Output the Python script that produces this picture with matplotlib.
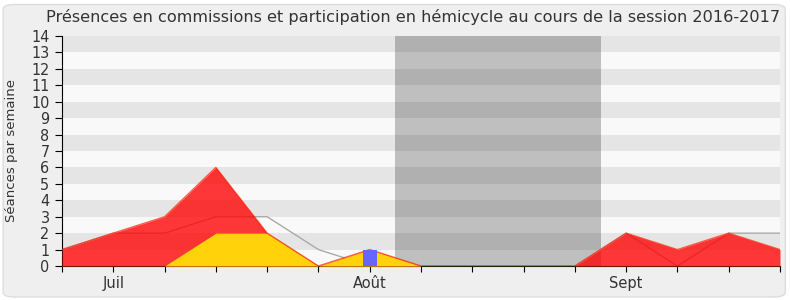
import matplotlib
matplotlib.use("Agg")
import matplotlib.pyplot as plt
from matplotlib.patches import FancyBboxPatch

weeks = list(range(15))
hemicycle = [1, 2, 3, 6, 2, 0, 1, 0, 0, 0, 0, 2, 1, 2, 1]
commissions = [0, 0, 0, 2, 2, 0, 1, 0, 0, 0, 0, 0, 0, 0, 0]
median = [1, 2, 2, 3, 3, 1, 0, 0, 0, 0, 0, 2, 0, 2, 2]
questions_x = [6]
questions = [1]
vacances = (6.5, 10.5)
month_ticks = [1, 6, 11]
month_labels = ["Juil", "Août", "Sept"]
title = "Présences en commissions et participation en hémicycle au cours de la session 2016-2017"

fig = plt.figure(figsize=(7.9, 3.0), dpi=100)
fig.patch.set_facecolor("white")
bg = FancyBboxPatch((0.004, 0.01), 0.99, 0.975, boxstyle="round,pad=0,rounding_size=0.015",
                    transform=fig.transFigure, facecolor="#efefef", edgecolor="#dddddd", lw=1, zorder=-10)
fig.patches.append(bg)

ax = fig.add_axes([62/790, 34/300, (780-62)/790, (266-36)/300])
ax.set_facecolor("#f9f9f9")
for k in range(1, 14, 2):
    ax.axhspan(k, k+1, color="#e5e5e5", lw=0, zorder=0)
ax.axvspan(vacances[0], vacances[1], color="black", alpha=0.23, lw=0, zorder=1)

ax.plot(weeks, median, color="#aaaaaa", lw=1, zorder=2)
ax.fill_between(weeks, 0, hemicycle, color="#ff0000", alpha=0.78, lw=0, zorder=3)
ax.fill_between(weeks, 0, commissions, color="#ffd20a", lw=0, zorder=4)
ax.plot(weeks, hemicycle, color="#ff2000", lw=1, alpha=0.7, zorder=5)
ax.bar(questions_x, questions, width=0.27, color="#6666ff", lw=0, zorder=6)

ax.set_xlim(0, 14)
ax.set_ylim(0, 14)
ax.set_xticks(weeks)
ax.set_xticklabels([month_labels[month_ticks.index(w)] if w in month_ticks else "" for w in weeks])
ax.set_yticks(range(15))
ax.tick_params(axis="x", labelsize=10.5, colors="black", labelcolor="#333333", length=4)
ax.tick_params(axis="y", labelsize=11.5, colors="black", labelcolor="#333333", length=5, pad=4)
for lab in ax.get_yticklabels():
    lab.set_fontstretch("condensed")
for s in ["top", "right"]:
    ax.spines[s].set_visible(False)
ax.spines["left"].set_color("black")
ax.spines["bottom"].set_color("#222200")
ax.set_ylabel("Séances par semaine", fontsize=9.5, color="#333333")
ax.yaxis.label.set_va("center")
ax.yaxis.set_label_coords((12 - 62) / 718, 0.5)
fig.text(413/790, 1-17/300, title, ha="center", va="center", fontsize=11.6, color="#333333")

fig.savefig("out.png", dpi=100, facecolor=fig.get_facecolor())
